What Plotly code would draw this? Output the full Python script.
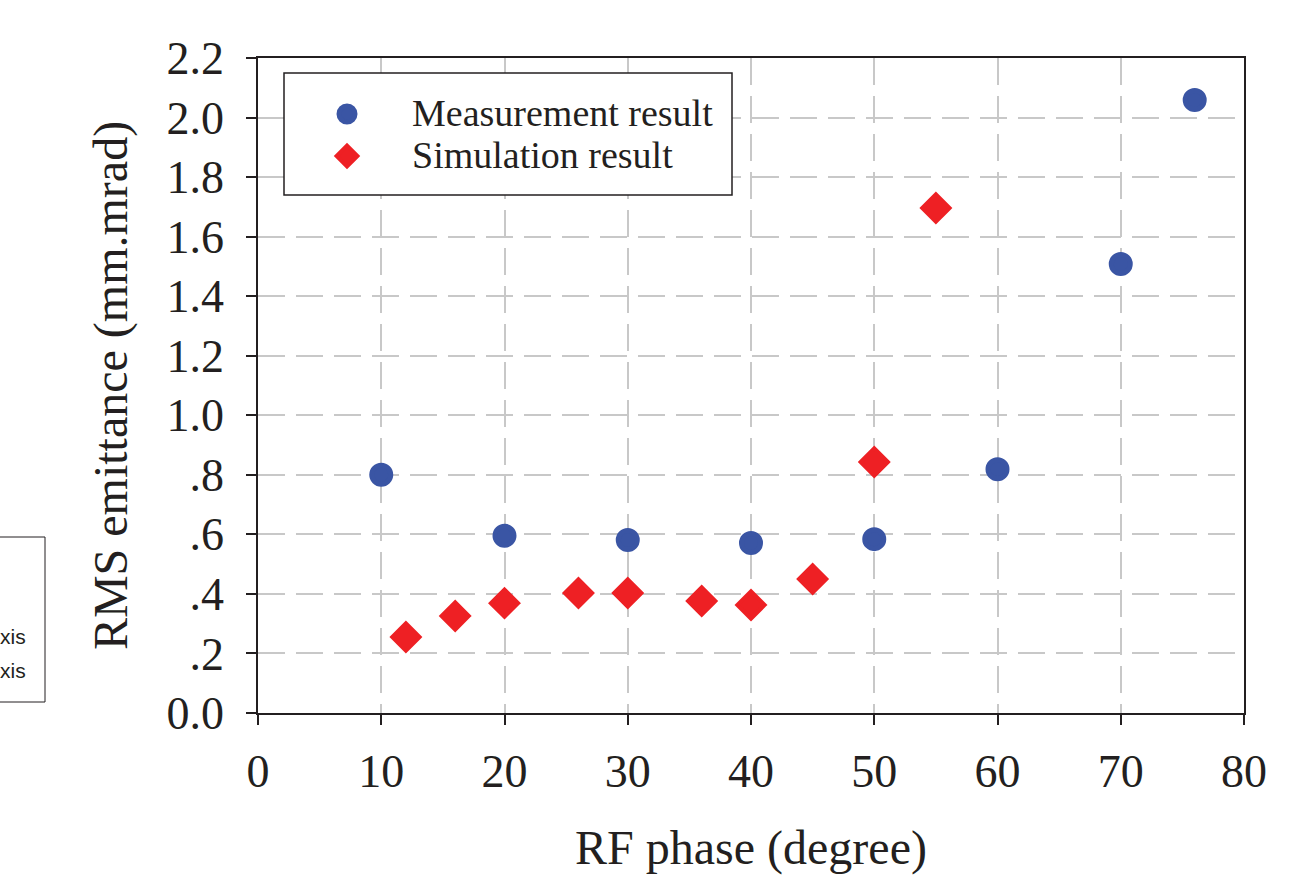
import plotly.graph_objects as go

meas_x = [10, 20, 30, 40, 50, 60, 70, 76]
meas_y = [0.80, 0.595, 0.581, 0.571, 0.584, 0.819, 1.508, 2.059]

sim_x = [12, 16, 20, 26, 30, 36, 40, 45, 50, 55]
sim_y = [0.255, 0.326, 0.369, 0.403, 0.403, 0.376, 0.363, 0.450, 0.843, 1.696]

y_ticks = [0.0, 0.2, 0.4, 0.6, 0.8, 1.0, 1.2, 1.4, 1.6, 1.8, 2.0, 2.2]
y_labels = ["0.0", ".2", ".4", ".6", ".8", "1.0", "1.2", "1.4", "1.6", "1.8", "2.0", "2.2"]
x_ticks = [0, 10, 20, 30, 40, 50, 60, 70, 80]

series_names = ["Measurement result", "Simulation result"]

W, H = 1305, 876
L, R, T, B = 258, 61, 58, 163
pw = W - L - R
ph = H - T - B

def px(xp):
    return (xp - L) / pw

def py(yp):
    return (H - B - yp) / ph

font = "Liberation Serif, Times New Roman, serif"
ink = "#231F20"
blue = "#3A55A4"
red = "#EE2024"

def legend_name(s):
    return '<span style="font-size:38px">' + s + '</span>'

fig = go.Figure()
fig.add_trace(go.Scatter(
    x=meas_x, y=meas_y, mode="markers", name=legend_name(series_names[0]),
    marker=dict(symbol="circle", size=19, color=blue, line=dict(width=5, color=blue)),
))
fig.add_trace(go.Scatter(
    x=sim_x, y=sim_y, mode="markers", name=legend_name(series_names[1]),
    marker=dict(symbol="diamond", size=21, color=red, line=dict(width=4, color=red)),
))

axis_common = dict(
    showline=True, linecolor=ink, linewidth=1.5, mirror=True,
    ticks="outside", ticklen=10, tickwidth=1.5, tickcolor=ink,
    showgrid=True, gridcolor="#C8C8C8", gridwidth=1.5, griddash="27px,11px",
    zeroline=False,
    tickfont=dict(family=font, size=46, color=ink),
)

fig.update_layout(
    width=W, height=H,
    margin=dict(l=L, r=R, t=T, b=B),
    paper_bgcolor="white", plot_bgcolor="white",
    xaxis=dict(range=[0, 80], tickvals=x_ticks, ticklabelstandoff=7,
               title=dict(text="RF phase (degree)", font=dict(family=font, size=48, color=ink), standoff=34),
               **axis_common),
    yaxis=dict(range=[0, 2.2], tickvals=y_ticks, ticktext=y_labels, ticklabelstandoff=13,
               title=dict(text="RMS emittance (mm.mrad)", font=dict(family=font, size=48, color=ink), standoff=24),
               **axis_common),
    legend=dict(
        x=px(282), y=py(88), xanchor="left", yanchor="top",
        bgcolor="rgba(0,0,0,0)", borderwidth=0,
        font=dict(family=font, size=30, color=ink),
        itemwidth=120, tracegroupgap=0,
    ),
    showlegend=True,
)

# legend frame
fig.add_shape(type="rect", xref="paper", yref="paper", layer="above",
              x0=px(284), x1=px(732), y0=py(195), y1=py(73),
              line=dict(color=ink, width=1.5), fillcolor="white")

# partial box artifact at left edge
fig.add_shape(type="rect", xref="paper", yref="paper",
              x0=px(-20), x1=px(45), y0=py(702), y1=py(537),
              line=dict(color=ink, width=1), fillcolor="rgba(0,0,0,0)")
for yy in (636, 670):
    fig.add_annotation(text="xis", xref="paper", yref="paper", x=px(28), y=py(yy),
                       xanchor="right", yanchor="middle", showarrow=False,
                       font=dict(family="Liberation Sans, Arial, sans-serif", size=21, color=ink))

fig.write_html("out.html")
